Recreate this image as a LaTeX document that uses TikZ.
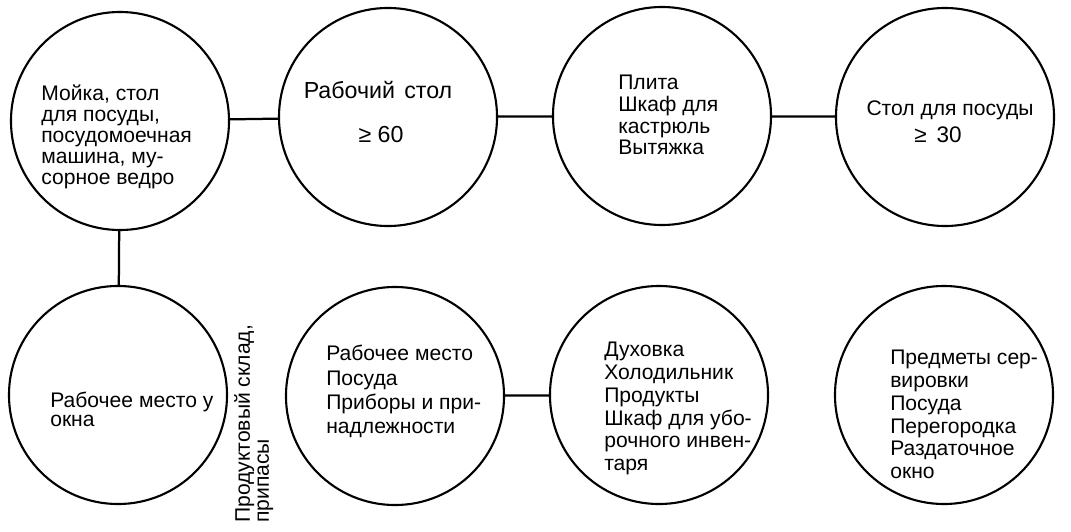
\documentclass[tikz,border=0pt]{standalone}
\usepackage{fontspec}
\setmainfont{Liberation Sans}

\tikzset{
  circulo/.style={draw, circle, line width=1.5pt, minimum size=5.45cm, inner sep=0pt},
  texto/.style={inner sep=0pt, align=left, anchor=north west, font=\fontsize{15}{16.2}\selectfont},
  signo/.style={inner sep=0pt, anchor=base},
  union/.style={line width=1.6pt},
}

\begin{document}
\begin{tikzpicture}[x=0.025cm, y=-0.025cm]
        \useasboundingbox (0,0) rectangle (1071,532);

        % Circulos de la fila superior
        \node[circulo] (c1) at (120,121) {};
        \node[circulo] (c2) at (388,117) {};
        \node[circulo] (c3) at (662,116) {};
        \node[circulo] (c4) at (945,117) {};

        % Circulos de la fila inferior
        \node[circulo] (c5) at (118,395) {};
        \node[circulo] (c6) at (395,396) {};
        \node[circulo] (c7) at (659,395) {};
        \node[circulo] (c8) at (944,395) {};

        % Uniones entre circulos
        \draw[union] (c1) -- (c2);
        \draw[union] (c2) -- (c3);
        \draw[union] (c3) -- (c4);
        \draw[union] (c1) -- (c5);
        \draw[union] (c6) -- (c7);

        % Textos de la fila superior
        \node[texto, font=\fontsize{15}{14.8}\selectfont] (t1) at (41,85)
          {Мойка, стол\\для посуды,\\посудомоечная\\машина, му-\\сорное ведро};
        \node[signo, font=\fontsize{16.5}{17}\selectfont] (t2) at (378,99) {Рабочий\hspace{0.4em}стол};
        \node[signo, font=\fontsize{16.5}{17}\selectfont] (t2b) at (381,142) {≥ 60};
        \node[texto, font=\fontsize{15}{15.4}\selectfont] (t3) at (618,75)
          {Плита\\Шкаф для\\кастрюль\\Вытяжка};
        \node[signo, font=\fontsize{15}{16}\selectfont] (t4) at (950,115) {Стол для посуды};
        \node[signo, font=\fontsize{16}{16}\selectfont] (t4b) at (938,142) {≥\hspace{0.45em}30};

        % Textos de la fila inferior
        \node[texto, font=\fontsize{15}{13.5}\selectfont] (t5) at (50,392)
          {Рабочее место у\\окна};
        \node[texto, font=\fontsize{15}{17.3}\selectfont] (t6) at (326,345)
          {Рабочее место\\Посуда\\Приборы и при-\\надлежности};
        \node[texto] (t7) at (604,342)
          {Духовка\\Холодильник\\Продукты\\Шкаф для убо-\\рочного инвен-\\таря};
        \node[texto] (t8) at (890,350)
          {Предметы сер-\\вировки\\Посуда\\Перегородка\\Раздаточное\\окно};

        % Texto vertical entre c5 y c6
        \node[texto, rotate=90, font=\fontsize{15}{13.5}\selectfont] (almacen) at (234,523)
          {Продуктовый склад,\\припасы};
\end{tikzpicture}
\end{document}
